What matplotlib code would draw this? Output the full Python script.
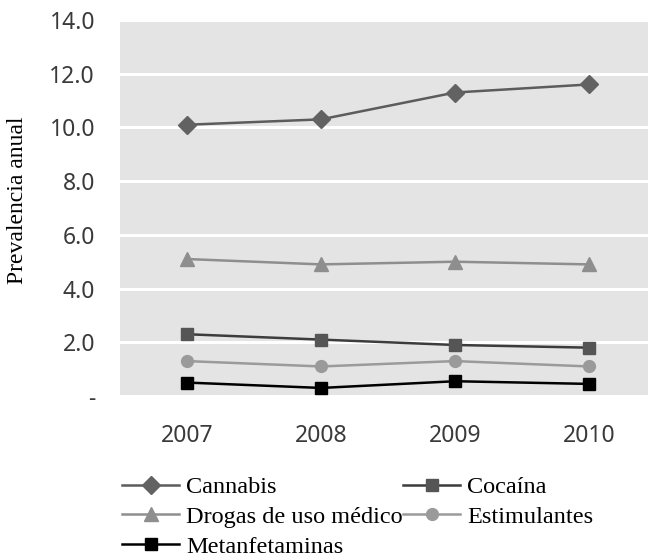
import matplotlib
matplotlib.use("Agg")
import matplotlib.pyplot as plt

years = ["2007", "2008", "2009", "2010"]
cannabis = [10.1, 10.3, 11.3, 11.6]
drogas = [5.1, 4.9, 5.0, 4.9]
cocaina = [2.3, 2.1, 1.9, 1.8]
estimulantes = [1.3, 1.1, 1.3, 1.1]
metanfetaminas = [0.5, 0.3, 0.55, 0.45]
yticks = [0, 2, 4, 6, 8, 10, 12, 14]
ytick_labels = ["-", "2.0", "4.0", "6.0", "8.0", "10.0", "12.0", "14.0"]

fig = plt.figure(figsize=(6.48, 5.6), dpi=100)
ax = fig.add_axes([120/648, 1 - 396/560, 536/648, 376/560])
ax.set_facecolor("#e4e4e4")
x = list(range(len(years)))

l1, = ax.plot(x, cannabis, color="#5c5c5c", lw=1.8, marker="D", ms=9, mfc="#626262", mec="#626262", label="Cannabis")
l2, = ax.plot(x, drogas, color="#8e8e8e", lw=1.8, marker="^", ms=10, mfc="#8e8e8e", mec="#8e8e8e", label="Drogas de uso médico")
l3, = ax.plot(x, cocaina, color="#3c3c3c", lw=1.8, marker="s", ms=8.5, mfc="#555555", mec="#555555", label="Cocaína")
l4, = ax.plot(x, estimulantes, color="#9a9a9a", lw=1.8, marker="o", ms=8.5, mfc="#9a9a9a", mec="#9a9a9a", label="Estimulantes")
l5, = ax.plot(x, metanfetaminas, color="#000000", lw=1.8, marker="s", ms=8.5, mfc="#000000", mec="#000000", label="Metanfetaminas")

ax.set_xlim(-0.5, 3.5)
ax.set_ylim(0, 14)
ax.set_yticks(yticks)
ax.set_yticklabels(ytick_labels)
ax.set_xticks(x)
ax.set_xticklabels(years)
ax.yaxis.grid(True, color="white", lw=2.2)
ax.set_axisbelow(True)
for s in ax.spines.values():
    s.set_visible(False)
ax.tick_params(axis="both", length=0, labelsize=16.5, labelcolor="#3a3a3a")
ax.tick_params(axis="y", pad=18)
ax.tick_params(axis="x", pad=20)
for t in ax.get_xticklabels() + ax.get_yticklabels():
    t.set_fontfamily("Noto Sans")
ax.set_ylabel("Prevalencia anual", fontfamily="Liberation Serif", fontsize=17,
              va="center")
ax.yaxis.set_label_coords((18 - 120) / 536, (396 - 200) / 376)

handles = [l1, l2, l5, l3, l4]
leg = fig.legend(handles=handles, labels=[h.get_label() for h in handles],
                 loc="upper left", bbox_to_anchor=(122/648, 1 - 476/560), ncol=2,
                 frameon=False, prop={"family": "Liberation Serif", "size": 17.5},
                 handlelength=2.35, handletextpad=0.3, columnspacing=0.0,
                 labelspacing=0.32, borderaxespad=0, borderpad=0)

fig.savefig("out.png", dpi=100)
